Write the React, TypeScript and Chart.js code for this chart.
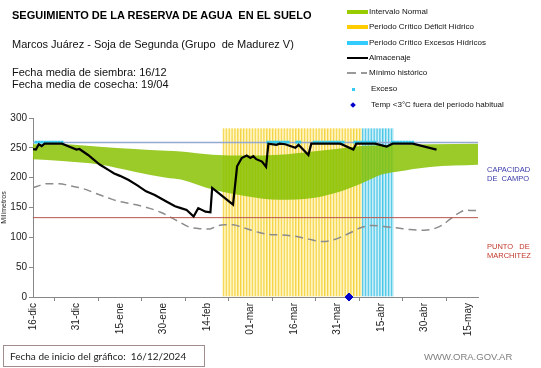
import React, { useEffect, useRef } from "react";
import { Chart, registerables } from "chart.js";

Chart.register(...registerables);

// ---- Data ----
const tickDays = [0, 15, 30, 45, 60, 75, 90, 105, 120, 135, 150];
const tickLabels = ["16-dic", "31-dic", "15-ene", "30-ene", "14-feb", "01-mar", "16-mar", "31-mar", "15-abr", "30-abr", "15-may"];

const almDays = [0, 1, 2, 3, 4, 10, 13, 15, 16, 19, 23, 26, 28, 30, 33, 36, 39, 42, 46, 49, 51, 53, 55.4, 57, 59.5, 61.2, 61.8, 69, 70.4, 72, 73.7, 75, 76, 77, 79, 80.4, 81.2, 84, 85, 87, 90.5, 91.6, 95, 96, 106, 110.5, 111.5, 118, 122, 124, 131, 139.2];
const almValues = [248, 247, 256, 253, 257, 257, 251, 247, 248, 238, 222, 213, 207, 203, 196, 187, 177, 171, 160, 152, 149, 146, 135, 149, 143, 142, 183, 155, 219, 233, 237, 233, 236, 231, 227, 218, 257, 255, 257, 256, 250, 255, 238, 257, 257, 247, 257, 257, 252, 257, 257, 247];

const normDays = [0, 10, 23, 35, 46, 51, 62, 73.6, 85, 96.5, 106, 114, 120, 125.5, 137, 153.5];
const normUpper = [256, 256, 252, 248, 245, 244, 238.5, 237, 238.5, 244, 249, 253.5, 254.5, 255, 256, 257];
const normLower = [231, 228, 222, 210, 200, 197, 180, 169, 163, 166, 177, 192, 205, 210, 218, 221.5];

const minDays = [0, 3, 5, 9, 13, 17, 22, 26, 29, 33, 37, 40, 44, 47, 50, 54, 57, 61, 63.4, 66, 69, 72, 74, 78, 81, 86, 90, 95, 100, 103, 106, 110, 113, 117, 121, 125, 130, 135, 138, 141, 144, 147, 149.5, 151, 153.5];
const minValues = [183, 188, 190, 190, 186, 182, 173, 166, 161, 157, 153, 149, 142, 135, 127, 117, 115, 114, 119, 121, 121, 117, 114, 108, 105, 104, 102, 97, 93, 95, 100, 109, 116, 120, 118, 116, 113, 112, 114, 120, 131, 141, 146, 145, 145];

const deficitDays = [66, 67, 68, 69, 70, 71, 72, 73, 74, 75, 76, 77, 78, 79, 80, 81, 82, 83, 84, 85, 86, 87, 88, 89, 90, 91, 92, 93, 94, 95, 96, 97, 98, 99, 100, 101, 102, 103, 104, 105, 106, 107, 108, 109, 110, 111, 112, 113];
const excesoHidDays = [114, 115, 116, 117, 118, 119, 120, 121, 122, 123, 124];
const periodTop = 283;

const excesoDays = [1, 2, 3, 4, 5, 6, 7, 8, 9, 10, 81, 82, 83, 84, 85, 86, 87, 88, 91, 92, 97, 98, 99, 100, 101, 102, 103, 104, 105, 106, 107, 111, 112, 113, 114, 115, 116, 117, 118, 124, 125, 126, 127, 128, 129, 130, 131];
const excesoLevel = 259.5;

const capacidadCampo = 259;
const puntoMarchitez = 133;
const heladaDays = [109];
const heladaValues = [0];

const xMin = 0;
const xMax = 153.5;

const FONT = "'Liberation Sans', Arial, Helvetica, sans-serif";

export default function App() {
  const ref = useRef<HTMLCanvasElement>(null);

  useEffect(() => {
    const canvas = ref.current!;
    const xy = (d: number[], v: number[]) => d.map((x, i) => ({ x, y: v[i] }));
    const flat = (d: number[], val: number) => d.map((x) => ({ x, y: val }));

    const chart = new Chart(canvas, {
      type: "line",
      data: {
        datasets: [
          {
            type: "line",
            label: "Almacenaje",
            data: xy(almDays, almValues),
            borderColor: "#000000",
            borderWidth: 2.2,
            pointRadius: 0,
            tension: 0,
            order: 0,
          },
          {
            type: "line",
            label: "Temp",
            data: xy(heladaDays, heladaValues),
            showLine: false,
            pointStyle: "rectRot",
            pointRadius: 4,
            backgroundColor: "#0000cc",
            borderColor: "#0000cc",
            clip: false,
            order: 1,
          },
          {
            type: "line",
            label: "Exceso",
            data: flat(excesoDays, excesoLevel),
            showLine: false,
            pointStyle: "rect",
            pointRadius: 2,
            backgroundColor: "#33ccee",
            borderColor: "#33ccee",
            borderWidth: 0,
            order: 2,
          },
          {
            type: "line",
            label: "Capacidad",
            data: flat([xMin, xMax], capacidadCampo),
            borderColor: "#93a9d2",
            borderWidth: 1.5,
            pointRadius: 0,
            order: 3,
          },
          {
            type: "line",
            label: "Marchitez",
            data: flat([xMin, xMax], puntoMarchitez),
            borderColor: "#b85450",
            borderWidth: 1,
            pointRadius: 0,
            order: 4,
          },
          {
            type: "line",
            label: "Mínimo histórico",
            data: xy(minDays, minValues),
            borderColor: "#8c8c8c",
            borderWidth: 1.5,
            borderDash: [8, 5],
            pointRadius: 0,
            cubicInterpolationMode: "monotone",
            order: 5,
          },
          {
            type: "line",
            label: "normLower",
            data: xy(normDays, normLower),
            borderWidth: 0,
            borderColor: "rgba(0,0,0,0)",
            pointRadius: 0,
            cubicInterpolationMode: "monotone",
            order: 7,
          },
          {
            type: "line",
            label: "Intervalo Normal",
            data: xy(normDays, normUpper),
            borderWidth: 0,
            borderColor: "rgba(0,0,0,0)",
            backgroundColor: "rgba(135, 193, 0, 0.84)",
            fill: "-1",
            pointRadius: 0,
            cubicInterpolationMode: "monotone",
            order: 6,
          },
          {
            type: "bar",
            label: "Periodo Crítico Déficit Hídrico",
            data: flat(deficitDays, periodTop),
            backgroundColor: "rgba(255, 238, 150, 0.5)",
            borderColor: "rgba(240, 200, 20, 0.8)",
            borderWidth: { left: 1, right: 0, top: 0, bottom: 0 },
            borderSkipped: false,
            barPercentage: 1,
            categoryPercentage: 1,
            grouped: false,
            order: 8,
          },
          {
            type: "bar",
            label: "Periodo Crítico Excesos Hídricos",
            data: flat(excesoHidDays, periodTop),
            backgroundColor: "rgba(160, 225, 242, 0.5)",
            borderColor: "rgba(30, 185, 225, 0.8)",
            borderWidth: { left: 1, right: 0, top: 0, bottom: 0 },
            borderSkipped: false,
            barPercentage: 1,
            categoryPercentage: 1,
            grouped: false,
            order: 9,
          },
        ],
      },
      options: {
        responsive: false,
        animation: false,
        events: [],
        layout: { padding: { left: 0, top: 118, right: 63, bottom: 0 } },
        plugins: { legend: { display: false }, tooltip: { enabled: false } },
        scales: {
          x: {
            type: "linear",
            min: xMin,
            max: xMax,
            offset: false,
            afterBuildTicks: (s: any) => {
              s.ticks = tickDays.map((v) => ({ value: v }));
            },
            afterFit: (s: any) => {
              s.height = 71;
            },
            ticks: {
              autoSkip: false,
              minRotation: 90,
              maxRotation: 90,
              padding: 2,
              color: "#222",
              font: { family: FONT, size: 10 },
              callback: (_v: any, i: number) => tickLabels[i],
            },
            grid: { drawOnChartArea: false, drawTicks: true, tickLength: 4, color: "#888" },
            border: { color: "#888", width: 1 },
          },
          y: {
            min: 0,
            max: 300,
            afterFit: (s: any) => {
              s.width = 33;
            },
            ticks: {
              stepSize: 50,
              padding: 2,
              color: "#222",
              font: { family: FONT, size: 10 },
            },
            grid: { drawOnChartArea: false, drawTicks: true, tickLength: 4, color: "#888" },
            border: { color: "#888", width: 1 },
            title: {
              display: true,
              text: "Milímetros",
              color: "#222",
              font: { family: FONT, size: 7 },
              padding: { top: 0, bottom: 0 },
            },
          },
        },
      },
    } as any);
    return () => chart.destroy();
  }, []);

  const abs = (l: number, t: number, extra: React.CSSProperties = {}): React.CSSProperties => ({
    position: "absolute",
    left: l,
    top: t,
    whiteSpace: "pre",
    fontFamily: FONT,
    ...extra,
  });

  const legendRow = (cy: number, swatch: React.ReactNode, text: string, textLeft = 369) => (
    <div style={{ position: "absolute", left: 0, top: cy - 6, height: 12, width: 541 }}>
      {swatch}
      <div style={abs(textLeft, 0, { fontSize: 8, lineHeight: "12px", color: "#111" })}>{text}</div>
    </div>
  );

  return (
    <div style={{ position: "absolute", left: 0, top: 0, width: 541, height: 368, background: "#fff", overflow: "hidden" }}>
      <canvas ref={ref} width={541} height={368} style={{ position: "absolute", left: 0, top: 0, width: 541, height: 368 }} />

      <div style={abs(12, 10, { fontSize: 11, fontWeight: "bold", lineHeight: 1, color: "#000" })}>
        SEGUIMIENTO DE LA RESERVA DE AGUA  EN EL SUELO
      </div>
      <div style={abs(12, 39, { fontSize: 11, lineHeight: 1, color: "#111" })}>
        Marcos Juárez - Soja de Segunda (Grupo  de Madurez V)
      </div>
      <div style={abs(12, 66.5, { fontSize: 11, lineHeight: 1, color: "#111" })}>Fecha media de siembra: 16/12</div>
      <div style={abs(12, 78.5, { fontSize: 11, lineHeight: 1, color: "#111" })}>Fecha media de cosecha: 19/04</div>

      {legendRow(11.7, <div style={{ position: "absolute", left: 347, top: 4, width: 21, height: 4, background: "#99cc00" }} />, "Intervalo Normal")}
      {legendRow(26.7, <div style={{ position: "absolute", left: 347, top: 4, width: 21, height: 4, background: "#ffcc00" }} />, "Periodo Crítico Déficit Hídrico")}
      {legendRow(42.7, <div style={{ position: "absolute", left: 347, top: 4, width: 21, height: 4, background: "#33ccff" }} />, "Periodo Crítico Excesos Hídricos")}
      {legendRow(58.3, <div style={{ position: "absolute", left: 347, top: 5, width: 21, height: 2, background: "#000" }} />, "Almacenaje")}
      {legendRow(
        72.7,
        <>
          <div style={{ position: "absolute", left: 347, top: 5, width: 9, height: 2, background: "#999" }} />
          <div style={{ position: "absolute", left: 361, top: 5, width: 6, height: 2, background: "#999" }} />
        </>,
        "Mínimo histórico"
      )}
      {legendRow(89.3, <div style={{ position: "absolute", left: 352, top: 5, width: 3, height: 3, background: "#33ccee" }} />, "Exceso", 371)}
      {legendRow(
        105,
        <div style={{ position: "absolute", left: 351, top: 4, width: 4, height: 4, background: "#0000cc", transform: "rotate(45deg)" }} />,
        "Temp <3°C fuera del período habitual",
        371
      )}

      <div style={abs(487, 165, { fontSize: 7.5, lineHeight: "9px", color: "#3a3aa8" })}>{"CAPACIDAD\nDE  CAMPO"}</div>
      <div style={abs(487, 242, { fontSize: 7.5, lineHeight: "9px", color: "#c0392b" })}>{"PUNTO   DE\nMARCHITEZ"}</div>

      <div
        style={{
          position: "absolute",
          left: 3,
          top: 345,
          width: 194,
          height: 20,
          border: "1px solid #a08c8c",
          fontFamily: "Lato, 'Open Sans', sans-serif",
          fontSize: 10,
          lineHeight: "20px",
          color: "#222",
          paddingLeft: 6,
          boxSizing: "content-box",
          whiteSpace: "pre",
        }}
      >
        {"Fecha de inicio del gráfico:  16/12/2024"}
      </div>
      <div style={abs(424, 352, { fontSize: 9.5, lineHeight: 1, color: "#7f7f7f" })}>WWW.ORA.GOV.AR</div>
    </div>
  );
}
